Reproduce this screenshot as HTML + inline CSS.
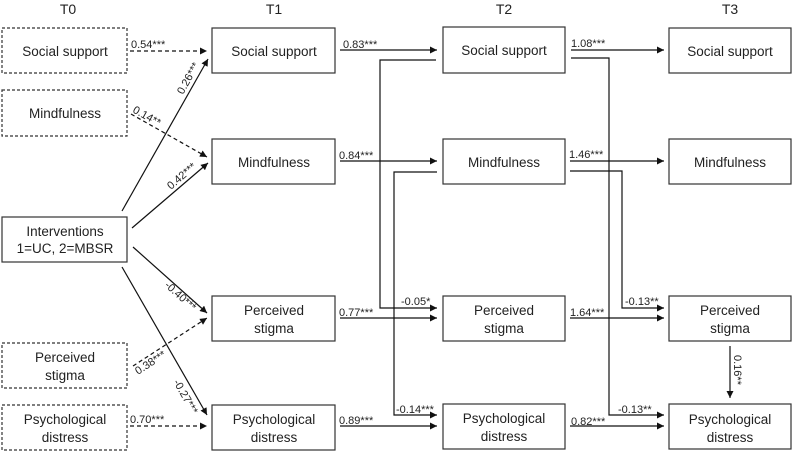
<!DOCTYPE html>
<html><head><meta charset="utf-8"><style>body{margin:0;background:#fff}svg{display:block}text{font-family:"Liberation Sans",Arial,sans-serif;fill:#222}</style></head><body>
<svg width="793" height="452" viewBox="0 0 793 452" xmlns="http://www.w3.org/2000/svg">
<defs><marker id="a" viewBox="0 0 10 10" refX="10" refY="5" markerWidth="7" markerHeight="7" orient="auto" markerUnits="userSpaceOnUse"><path d="M0,0L10,5L0,10z" fill="#111"/></marker></defs>
<g font-size="14" text-anchor="middle">
<text x="68" y="14">T0</text><text x="274" y="14">T1</text><text x="504" y="14">T2</text><text x="730" y="14">T3</text>
</g>
<g fill="none" stroke="#333" stroke-width="1.2">
<g stroke-dasharray="3,2">
<rect x="2" y="28" width="125" height="45"/><rect x="2" y="90" width="125" height="46"/>
<rect x="2" y="343" width="125" height="45"/><rect x="2" y="405" width="125" height="45"/>
</g>
<rect x="2" y="217" width="125" height="45"/>
<rect x="212" y="28" width="123" height="45"/><rect x="212" y="139" width="123" height="45"/><rect x="212" y="296" width="123" height="45"/><rect x="212" y="405" width="123" height="45"/>
<rect x="443" y="27" width="122" height="46"/><rect x="443" y="139" width="122" height="45"/><rect x="443" y="296" width="122" height="45"/><rect x="443" y="404" width="122" height="45"/>
<rect x="669" y="28" width="122" height="45"/><rect x="669" y="139" width="122" height="45"/><rect x="669" y="296" width="122" height="45"/><rect x="669" y="404" width="122" height="45"/>
</g>
<g font-size="13.5" text-anchor="middle">
<text x="65" y="56">Social support</text><text x="65" y="118">Mindfulness</text>
<text x="65" y="236">Interventions</text><text x="65" y="253">1=UC, 2=MBSR</text>
<text x="65" y="362">Perceived</text><text x="65" y="380">stigma</text>
<text x="65" y="424">Psychological</text><text x="65" y="442">distress</text>
<text x="274" y="56">Social support</text><text x="274" y="167">Mindfulness</text>
<text x="274" y="315">Perceived</text><text x="274" y="333">stigma</text>
<text x="274" y="424">Psychological</text><text x="274" y="442">distress</text>
<text x="504" y="55">Social support</text><text x="504" y="167">Mindfulness</text>
<text x="504" y="315">Perceived</text><text x="504" y="333">stigma</text>
<text x="504" y="423">Psychological</text><text x="504" y="441">distress</text>
<text x="730" y="56">Social support</text><text x="730" y="167">Mindfulness</text>
<text x="730" y="315">Perceived</text><text x="730" y="333">stigma</text>
<text x="730" y="424">Psychological</text><text x="730" y="442">distress</text>
</g>
<g stroke="#111" stroke-width="1.2" fill="none" marker-end="url(#a)">
<g stroke-dasharray="4,3">
<line x1="130" y1="51" x2="207" y2="51"/><line x1="131" y1="114" x2="207" y2="157"/>
<line x1="133" y1="366" x2="207" y2="318"/><line x1="130" y1="426" x2="207" y2="426"/>
</g>
<line x1="122" y1="211" x2="208" y2="59"/><line x1="132" y1="228" x2="208" y2="163"/>
<line x1="133" y1="247" x2="207" y2="313"/><line x1="122" y1="267" x2="207" y2="415"/>
<line x1="340" y1="50" x2="437" y2="50"/><line x1="340" y1="161" x2="437" y2="161"/>
<line x1="340" y1="318" x2="437" y2="318"/><line x1="340" y1="426" x2="437" y2="426"/>
<polyline points="436,60 380,60 380,308 437,308"/>
<polyline points="437,172 394,172 394,415 437,415"/>
<line x1="571" y1="50" x2="664" y2="50"/><line x1="570" y1="161" x2="664" y2="161"/>
<line x1="570" y1="318" x2="664" y2="318"/><line x1="570" y1="426" x2="664" y2="426"/>
<polyline points="571,58 609,58 609,415 664,415"/>
<polyline points="570,171 622,171 622,308 664,308"/>
<line x1="730" y1="346" x2="730" y2="398"/>
</g>
<g font-size="11">
<text x="131" y="48">0.54***</text><text x="343" y="48">0.83***</text><text x="339" y="159">0.84***</text>
<text x="339" y="316">0.77***</text><text x="339" y="424">0.89***</text><text x="130" y="423">0.70***</text>
<text x="401" y="305">-0.05*</text><text x="396" y="413">-0.14***</text>
<text x="571" y="47">1.08***</text><text x="569" y="158">1.46***</text><text x="570" y="316">1.64***</text><text x="571" y="425">0.82***</text>
<text x="625" y="305">-0.13**</text><text x="618" y="413">-0.13**</text>
<text transform="translate(734,355) rotate(90)">0.16**</text>
<text transform="translate(183,95) rotate(-61)">0.26***</text>
<text transform="translate(132,112) rotate(29)">0.14**</text>
<text transform="translate(171,190) rotate(-41)">0.42***</text>
<text transform="translate(164,286) rotate(42)">-0.40***</text>
<text transform="translate(138,375) rotate(-33)">0.38***</text>
<text transform="translate(173,382) rotate(60)">-0.27***</text>
</g>
</svg>
</body></html>
